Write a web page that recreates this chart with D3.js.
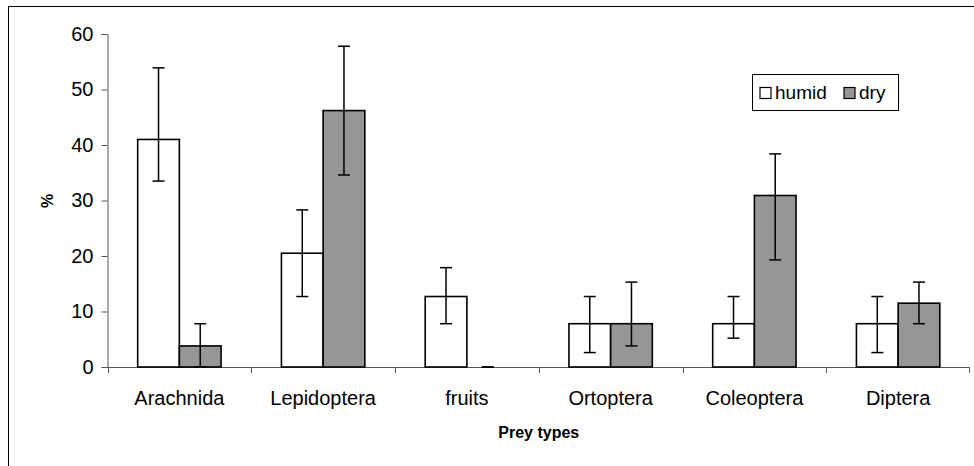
<!DOCTYPE html>
<html><head><meta charset="utf-8">
<script src="https://cdn.jsdelivr.net/npm/d3@7/dist/d3.min.js"></script>
<style>body{margin:0;background:#fff}svg{display:block;font-family:Arial,"Liberation Sans",sans-serif}</style>
</head><body>
<svg id="c" width="974" height="466"></svg>
<script>
const categories = ["Arachnida","Lepidoptera","fruits","Ortoptera","Coleoptera","Diptera"];
const seriesNames = ["humid","dry"];
const humid     = [41.0, 20.5, 12.7, 7.8, 7.8, 7.8];
const humidLow  = [33.5, 12.7, 7.8, 2.6, 5.2, 2.6];
const humidHigh = [53.9, 28.3, 17.9, 12.7, 12.7, 12.7];
const dry       = [3.8, 46.2, 0, 7.8, 30.9, 11.5];
const dryLow    = [0, 34.6, 0, 3.8, 19.3, 7.8];
const dryHigh   = [7.8, 57.8, 0, 15.3, 38.4, 15.3];
const yTicks = [0,10,20,30,40,50,60];

const colors = {humid:"#ffffff", dry:"#969696"};
const svg = d3.select("#c");

// outer border
svg.append("rect").attr("x",8.5).attr("y",6.5).attr("width",1000).attr("height",1000)
  .attr("fill","none").attr("stroke","#000").attr("stroke-width",1);

const x = d3.scaleBand().domain(categories).range([107.5, 970]).padding(0);
const y = d3.scaleLinear().domain([0,60]).range([367, 34]);
const bw = x.bandwidth()*0.29;

const data = categories.map((c,i)=>({c, vals:[
  {s:"humid", v:humid[i], lo:humidLow[i], hi:humidHigh[i], off:-bw},
  {s:"dry", v:dry[i], lo:dryLow[i], hi:dryHigh[i], off:0}
]}));

// axes
const yAxis = d3.axisLeft(y).tickValues(yTicks).tickSize(6).tickPadding(8);
const gy = svg.append("g").attr("transform","translate(107.5,0)").call(yAxis);
gy.selectAll("text").attr("font-size",20).attr("fill","#000").attr("font-family","Arial,'Liberation Sans',sans-serif");
gy.selectAll("line,path").attr("stroke","#555");

const gx = svg.append("g").attr("transform","translate(0,367)");
gx.append("line").attr("x1",107.5).attr("x2",970).attr("y1",0.5).attr("y2",0.5).attr("stroke","#555");
gx.selectAll("line.t").data(categories.concat(["end"])).join("line").attr("class","t")
  .attr("x1",(d,i)=>i<categories.length?Math.round(x(d))+0.5:969.5)
  .attr("x2",(d,i)=>i<categories.length?Math.round(x(d))+0.5:969.5)
  .attr("y1",0).attr("y2",6).attr("stroke","#555");
gx.selectAll("text").data(categories).join("text")
  .attr("x",d=>x(d)+x.bandwidth()/2).attr("y",38)
  .attr("text-anchor","middle").attr("font-size",20).text(d=>d);

// bars
const g = svg.append("g");
const grp = g.selectAll("g").data(data).join("g")
  .attr("transform",d=>`translate(${x(d.c)+x.bandwidth()/2},0)`);
grp.selectAll("rect").data(d=>d.vals.filter(v=>v.v>0)).join("rect")
  .attr("x",d=>d.off).attr("width",bw)
  .attr("y",d=>y(d.v)).attr("height",d=>y(0)-y(d.v))
  .attr("fill",d=>colors[d.s]).attr("stroke","#000").attr("stroke-width",1.6);

// error bars
const eb = grp.selectAll("g.e").data(d=>d.vals).join("g").attr("class","e")
  .attr("transform",d=>`translate(${d.off+bw/2},0)`);
eb.append("line").attr("x1",0).attr("x2",0).attr("y1",d=>y(d.lo)).attr("y2",d=>y(d.hi))
  .attr("stroke","#000").attr("stroke-width",1.5);
eb.append("line").attr("x1",-6).attr("x2",6).attr("y1",d=>y(d.hi)).attr("y2",d=>y(d.hi))
  .attr("stroke","#000").attr("stroke-width",1.5);
eb.append("line").attr("x1",-6).attr("x2",6).attr("y1",d=>y(d.lo)).attr("y2",d=>y(d.lo))
  .attr("stroke","#000").attr("stroke-width",1.5);

// axis titles
svg.append("text").attr("x",x.range()[0]+(970-107.5)/2).attr("y",438).attr("text-anchor","middle")
  .attr("font-size",16).attr("font-weight","bold").text("Prey types");
svg.append("text").attr("transform","translate(53,201) rotate(-90)").attr("text-anchor","middle")
  .attr("font-size",16).attr("font-weight","bold").text("%");

// legend
const lg = svg.append("g").attr("transform","translate(752,74)");
lg.append("rect").attr("x",0.5).attr("y",0.5).attr("width",146).attr("height",36)
  .attr("fill","#fff").attr("stroke","#000").attr("stroke-width",1);
const items = [{s:"humid",x:8},{s:"dry",x:92}];
items.forEach(it=>{
  lg.append("rect").attr("x",it.x).attr("y",13.5).attr("width",11).attr("height",11)
    .attr("fill",colors[it.s]).attr("stroke","#000").attr("stroke-width",1.2);
  lg.append("text").attr("x",it.x+15).attr("y",25).attr("font-size",19).text(seriesNames[seriesNames.indexOf(it.s)]);
});
</script>
</body></html>
